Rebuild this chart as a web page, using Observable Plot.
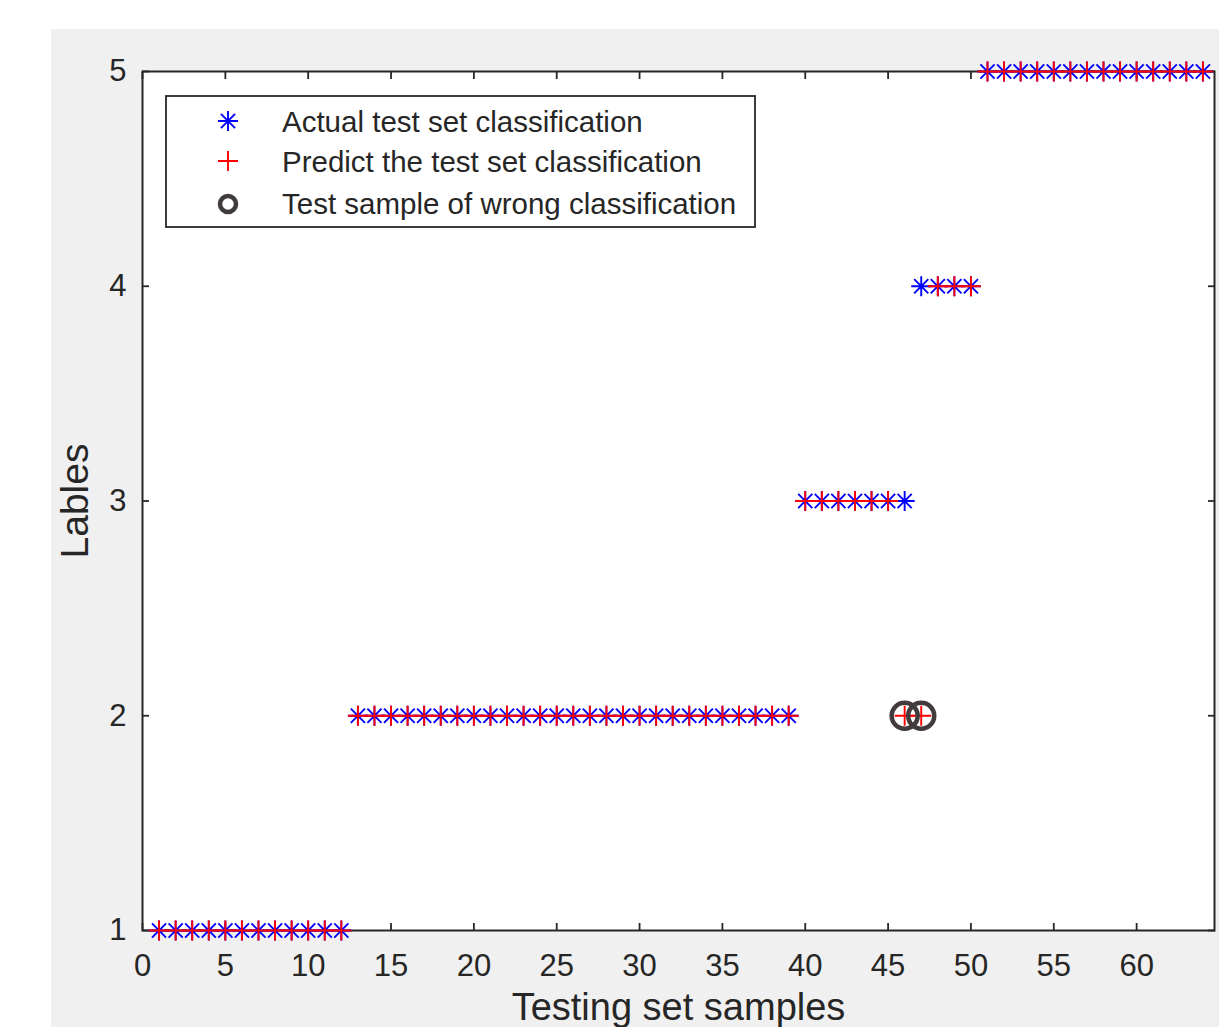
<!DOCTYPE html>
<html>
<head>
<meta charset="utf-8">
<script src="https://cdn.jsdelivr.net/npm/d3@7"></script>
<script src="https://cdn.jsdelivr.net/npm/@observablehq/plot@0.6"></script>
<style>
  html, body { margin: 0; padding: 0; background: #ffffff; overflow: hidden; }
  #wrap { position: relative; width: 1219px; height: 1027px; background: #ffffff; overflow: hidden; }
  #figbg { position: absolute; left: 51px; top: 29px; right: 0; bottom: 0; background: #f0f0f0; }
  #chart { position: absolute; left: 0; top: 0; }
  #legend { position: absolute; left: 165px; top: 95px; }
</style>
</head>
<body>
<div id="wrap">
  <div id="figbg"></div>
  <div id="chart"></div>
  <svg id="legend" width="592" height="134"></svg>
</div>
<script>
// ---- data ----
const samples = [1,2,3,4,5,6,7,8,9,10,11,12,13,14,15,16,17,18,19,20,21,22,23,24,25,26,27,28,29,30,31,32,
  33,34,35,36,37,38,39,40,41,42,43,44,45,46,47,48,49,50,51,52,53,54,55,56,57,58,59,60,61,62,63,64];
const actualLabels = [1,1,1,1,1,1,1,1,1,1,1,1,
  2,2,2,2,2,2,2,2,2,2,2,2,2,2,2,2,2,2,2,2,2,2,2,2,2,2,2,
  3,3,3,3,3,3,3,
  4,4,4,4,
  5,5,5,5,5,5,5,5,5,5,5,5,5,5];
const predictedLabels = [1,1,1,1,1,1,1,1,1,1,1,1,
  2,2,2,2,2,2,2,2,2,2,2,2,2,2,2,2,2,2,2,2,2,2,2,2,2,2,2,
  3,3,3,3,3,3,2,
  2,4,4,4,
  5,5,5,5,5,5,5,5,5,5,5,5,5,5];
const wrongSamples = [46, 47];
const wrongLabels = [2, 2];
const xTicks = [0,5,10,15,20,25,30,35,40,45,50,55,60];
const yTicks = [1,2,3,4,5];
const legendLabels = ["Actual test set classification", "Predict the test set classification", "Test sample of wrong classification"];

const rows = samples.map((s, i) => ({sample: s, actual: actualLabels[i], predicted: predictedLabels[i]}));
const wrong = wrongSamples.map((s, i) => ({sample: s, label: wrongLabels[i]}));

// MATLAB-like marker shapes
const star8 = {
  draw(ctx, size) {
    const r = Math.sqrt(size / Math.PI);
    const d = r / Math.SQRT2;
    ctx.moveTo(-r, 0); ctx.lineTo(r, 0);
    ctx.moveTo(0, -r); ctx.lineTo(0, r);
    ctx.moveTo(-d, -d); ctx.lineTo(d, d);
    ctx.moveTo(-d, d); ctx.lineTo(d, -d);
  }
};
const plus = {
  draw(ctx, size) {
    const r = Math.sqrt(size / Math.PI);
    ctx.moveTo(-r, 0); ctx.lineTo(r, 0);
    ctx.moveTo(0, -r); ctx.lineTo(0, r);
  }
};

const axisColor = "#262626";
const font = "'Liberation Sans', Arial, Helvetica, sans-serif";

const chart = Plot.plot({
  width: 1219,
  height: 1027,
  marginLeft: 142,
  marginTop: 71,
  marginRight: 5,
  marginBottom: 97,
  style: {background: "transparent", fontFamily: font, overflow: "visible", color: axisColor},
  x: {domain: [0, 64.7], label: null},
  y: {domain: [1, 5], label: null},
  marks: [
    Plot.frame({fill: "white", stroke: null}),
    Plot.axisX({anchor: "bottom", ticks: xTicks, tickSize: -7, tickPadding: 30, fontSize: 31, strokeWidth: 1.8, stroke: axisColor, fill: axisColor, label: null, tickFormat: d3.format("d")}),
    Plot.axisX({anchor: "top", ticks: xTicks, tickSize: -7, tickFormat: () => "", strokeWidth: 1.8, stroke: axisColor, label: null}),
    Plot.axisY({anchor: "left", ticks: yTicks, tickSize: -7, tickPadding: 23, fontSize: 31, strokeWidth: 1.8, stroke: axisColor, fill: axisColor, label: null, tickFormat: d3.format("d")}),
    Plot.axisY({anchor: "right", ticks: yTicks, tickSize: -7, tickFormat: () => "", strokeWidth: 1.8, stroke: axisColor, label: null}),
    Plot.frame({stroke: axisColor, strokeWidth: 2}),
    Plot.text(["Testing set samples"], {frameAnchor: "bottom", textAnchor: "middle", lineAnchor: "top", dy: 63, fontSize: 38, fill: axisColor}),
    Plot.text(["Lables"], {frameAnchor: "left", textAnchor: "middle", lineAnchor: "top", rotate: -90, dx: -82, fontSize: 39, fill: axisColor}),
    Plot.dot(rows, {x: "sample", y: "actual", symbol: star8, r: 10, stroke: "#0000ff", fill: "none", strokeWidth: 1.9}),
    Plot.dot(rows, {x: "sample", y: "predicted", symbol: plus, r: 10, stroke: "#ff0000", fill: "none", strokeWidth: 1.9}),
    Plot.dot(wrong, {x: "sample", y: "label", r: 13, stroke: "#423b3b", fill: "none", strokeWidth: 4.5})
  ]
});
document.getElementById("chart").appendChild(chart);

// ---- legend ----
const lg = d3.select("#legend");
lg.append("rect").attr("x", 1).attr("y", 1).attr("width", 589).attr("height", 131)
  .attr("fill", "white").attr("stroke", axisColor).attr("stroke-width", 1.8);
const sx = 63;
const rowY = [26, 66, 109];
const baseY = [36.5, 77, 119];
{
  const r = 10, d = r / Math.SQRT2, y = rowY[0];
  lg.append("path").attr("d", `M${sx - r},${y}L${sx + r},${y}M${sx},${y - r}L${sx},${y + r}M${sx - d},${y - d}L${sx + d},${y + d}M${sx - d},${y + d}L${sx + d},${y - d}`)
    .attr("stroke", "#0000ff").attr("stroke-width", 1.9).attr("fill", "none");
}
{
  const r = 10, y = rowY[1];
  lg.append("path").attr("d", `M${sx - r},${y}L${sx + r},${y}M${sx},${y - r}L${sx},${y + r}`)
    .attr("stroke", "#ff0000").attr("stroke-width", 1.9).attr("fill", "none");
}
lg.append("circle").attr("cx", sx).attr("cy", rowY[2]).attr("r", 8)
  .attr("stroke", "#423b3b").attr("stroke-width", 4.5).attr("fill", "none");
legendLabels.forEach((t, i) => {
  lg.append("text").attr("x", 117).attr("y", baseY[i]).text(t)
    .attr("font-family", font).attr("font-size", 29.5).attr("fill", axisColor);
});
</script>
</body>
</html>
